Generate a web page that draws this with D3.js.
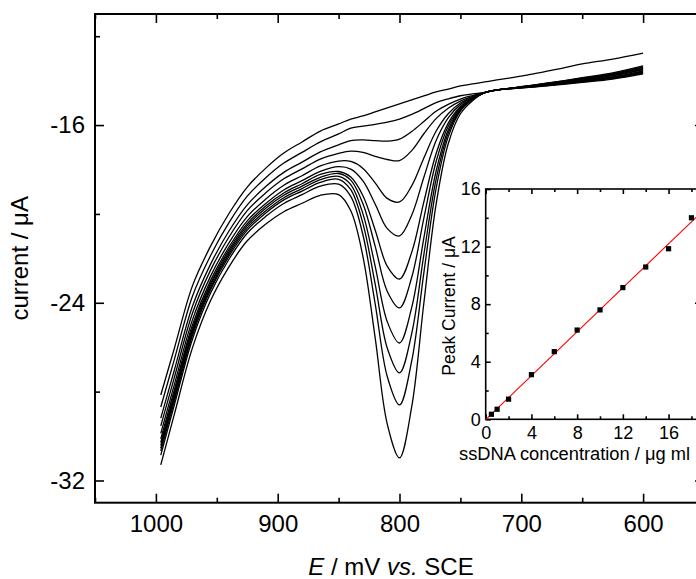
<!DOCTYPE html>
<html><head><meta charset="utf-8">
<script src="https://cdn.jsdelivr.net/npm/d3@7"></script>
<style>
body{margin:0;background:#fff;}
svg{display:block;}
text{font-family:"Liberation Sans",Arial,Helvetica,sans-serif;fill:#000;}
</style>
</head><body>
<svg id="chart" width="696" height="579"></svg>
<script>
// ---------- main chart data (E / mV, current / uA) ----------
const potential = [996, 985, 970, 955, 940, 925, 910, 895, 880, 865, 850, 840, 830, 820, 810, 800, 790, 780, 770, 760, 750, 740, 730, 720, 705, 690, 670, 650, 625, 600];
const cur0  = [-28.15,-26.08,-23.24,-21.44,-19.98,-18.79,-17.95,-17.26,-16.76,-16.27,-15.95,-15.73,-15.59,-15.41,-15.23,-15.05,-14.87,-14.69,-14.51,-14.38,-14.24,-14.15,-14.06,-13.97,-13.84,-13.70,-13.48,-13.25,-13.03,-12.76];
const cur05 = [-28.69,-26.58,-23.71,-21.86,-20.39,-19.20,-18.38,-17.71,-17.23,-16.76,-16.40,-16.14,-16.05,-15.97,-15.87,-15.73,-15.52,-15.26,-14.99,-14.82,-14.68,-14.60,-14.53,-14.42,-14.31,-14.20,-14.04,-13.87,-13.65,-13.34];
const cur1  = [-29.19,-27.06,-24.16,-22.25,-20.77,-19.59,-18.78,-18.13,-17.67,-17.21,-16.89,-16.70,-16.67,-16.70,-16.72,-16.63,-16.29,-15.84,-15.38,-15.07,-14.83,-14.67,-14.53,-14.42,-14.31,-14.20,-14.05,-13.89,-13.68,-13.38];
const cur2  = [-29.54,-27.39,-24.47,-22.52,-21.04,-19.85,-19.06,-18.42,-17.97,-17.53,-17.27,-17.17,-17.23,-17.41,-17.55,-17.60,-17.15,-16.39,-15.71,-15.24,-14.92,-14.71,-14.54,-14.42,-14.32,-14.21,-14.07,-13.91,-13.71,-13.41];
const cur4  = [-29.88,-27.71,-24.77,-22.79,-21.30,-20.12,-19.34,-18.71,-18.28,-17.84,-17.62,-17.64,-17.95,-18.60,-19.30,-19.46,-18.74,-17.48,-16.28,-15.49,-15.01,-14.75,-14.54,-14.42,-14.32,-14.22,-14.08,-13.93,-13.73,-13.45];
const cur6  = [-30.13,-27.95,-25.00,-22.98,-21.49,-20.31,-19.54,-18.92,-18.50,-18.08,-17.87,-17.98,-18.51,-19.55,-20.66,-20.99,-20.06,-18.35,-16.71,-15.68,-15.08,-14.77,-14.54,-14.42,-14.33,-14.23,-14.10,-13.95,-13.76,-13.48];
const cur8  = [-30.29,-28.10,-25.14,-23.11,-21.61,-20.44,-19.66,-19.06,-18.64,-18.22,-18.09,-18.34,-19.18,-20.72,-22.36,-22.93,-21.73,-19.46,-17.29,-15.91,-15.17,-14.80,-14.54,-14.42,-14.33,-14.24,-14.11,-13.97,-13.79,-13.52];
const cur10 = [-30.42,-28.22,-25.25,-23.20,-21.71,-20.53,-19.76,-19.16,-18.75,-18.35,-18.18,-18.48,-19.54,-21.45,-23.49,-24.23,-22.86,-20.19,-17.65,-16.05,-15.22,-14.81,-14.54,-14.42,-14.34,-14.25,-14.13,-13.99,-13.83,-13.56];
const cur12 = [-30.54,-28.34,-25.36,-23.30,-21.80,-20.63,-19.87,-19.27,-18.86,-18.46,-18.31,-18.68,-20.00,-22.35,-24.86,-25.81,-24.22,-21.08,-18.09,-16.22,-15.27,-14.83,-14.54,-14.42,-14.34,-14.26,-14.14,-14.01,-13.85,-13.59];
const cur14 = [-30.67,-28.46,-25.47,-23.40,-21.90,-20.73,-19.97,-19.37,-18.97,-18.58,-18.44,-18.91,-20.44,-23.15,-26.05,-27.16,-25.39,-21.83,-18.46,-16.36,-15.31,-14.83,-14.54,-14.42,-14.34,-14.27,-14.16,-14.03,-13.88,-13.63];
const cur16 = [-30.86,-28.63,-25.64,-23.55,-22.04,-20.87,-20.12,-19.53,-19.13,-18.75,-18.66,-19.21,-20.95,-24.04,-27.33,-28.60,-26.63,-22.65,-18.87,-16.52,-15.37,-14.85,-14.54,-14.42,-14.35,-14.28,-14.17,-14.05,-13.90,-13.66];
const cur18 = [-31.30,-29.05,-26.03,-23.89,-22.38,-21.21,-20.47,-19.90,-19.52,-19.16,-19.13,-19.86,-21.92,-25.57,-29.47,-30.98,-28.69,-24.01,-19.58,-16.84,-15.49,-14.90,-14.54,-14.42,-14.35,-14.29,-14.19,-14.08,-13.93,-13.70];
const curves = [cur0, cur05, cur1, cur2, cur4, cur6, cur8, cur10, cur12, cur14, cur16, cur18];

const xMajorTicks = [1000, 900, 800, 700, 600];
const xMinorTicks = [1050, 950, 850, 750, 650, 550];
const yMajorTicks = [-16, -24, -32];
const yMinorTicks = [-12, -20, -28];

// ---------- inset data ----------
const conc = [0.5, 1, 2, 4, 6, 8, 10, 12, 14, 16, 18];
const peakCurrent = [0.35, 0.7, 1.4, 3.1, 4.7, 6.2, 7.6, 9.15, 10.58, 11.85, 14.0];
const insetXMajor = [0, 4, 8, 12, 16];
const insetXMinor = [2, 6, 10, 14, 18];
const insetYMajor = [0, 4, 8, 12, 16];
const insetYMinor = [2, 6, 10, 14];

const svg = d3.select("#chart");

// ---------- main plot ----------
const M = {left: 95, right: 704, top: 14, bottom: 502.7};
const x = d3.scaleLinear().domain([1050, 550]).range([M.left, M.right]);
const y = d3.scaleLinear().domain([-33, -11]).range([M.bottom, M.top]);

const line = d3.line()
  .x((d, i) => x(potential[i]))
  .y(d => y(d))
  .curve(d3.curveCatmullRom.alpha(0.5));

svg.append("g").selectAll("path").data(curves).join("path")
  .attr("d", d => line(d))
  .attr("fill", "none").attr("stroke", "#000").attr("stroke-width", 1.3);

function styleAxis(g, fs) {
  g.select(".domain").remove();
  g.selectAll(".tick line").attr("stroke", "#000").attr("stroke-width", 1.6);
  g.selectAll(".tick text").attr("font-size", fs).attr("fill", "#000")
   .attr("font-family", '"Liberation Sans",Arial,sans-serif');
}
const fmt = d => String(d);

svg.append("g").attr("transform", `translate(0,${M.bottom})`)
  .call(d3.axisBottom(x).tickValues(xMajorTicks).tickSize(-9).tickPadding(12).tickFormat(fmt))
  .call(g => styleAxis(g, 24));
svg.append("g").attr("transform", `translate(0,${M.bottom})`)
  .call(d3.axisBottom(x).tickValues(xMinorTicks).tickSize(-5).tickFormat(""))
  .call(g => styleAxis(g, 24));
svg.append("g").attr("transform", `translate(0,${M.top})`)
  .call(d3.axisTop(x).tickValues(xMajorTicks).tickSize(-9).tickFormat(""))
  .call(g => styleAxis(g, 24));
svg.append("g").attr("transform", `translate(0,${M.top})`)
  .call(d3.axisTop(x).tickValues(xMinorTicks).tickSize(-5).tickFormat(""))
  .call(g => styleAxis(g, 24));

svg.append("g").attr("transform", `translate(${M.left},0)`)
  .call(d3.axisLeft(y).tickValues(yMajorTicks).tickSize(-9).tickPadding(10).tickFormat(fmt))
  .call(g => styleAxis(g, 24));
svg.append("g").attr("transform", `translate(${M.left},0)`)
  .call(d3.axisLeft(y).tickValues(yMinorTicks).tickSize(-5).tickFormat(""))
  .call(g => styleAxis(g, 24));
svg.append("g").attr("transform", `translate(${M.right},0)`)
  .call(d3.axisRight(y).tickValues(yMajorTicks).tickSize(-9).tickFormat(""))
  .call(g => styleAxis(g, 24));

svg.append("rect")
  .attr("x", M.left).attr("y", M.top)
  .attr("width", M.right - M.left).attr("height", M.bottom - M.top)
  .attr("fill", "none").attr("stroke", "#000").attr("stroke-width", 2);

// axis titles
svg.append("text")
  .attr("transform", `translate(28,${(M.top + M.bottom) / 2}) rotate(-90)`)
  .attr("text-anchor", "middle").attr("font-size", 24)
  .text("current / μA");

const xt = svg.append("text").attr("x", 391).attr("y", 575)
  .attr("text-anchor", "middle").attr("font-size", 24);
xt.append("tspan").attr("font-style", "italic").text("E");
xt.append("tspan").text(" / mV ");
xt.append("tspan").attr("font-style", "italic").text("vs.");
xt.append("tspan").text(" SCE");

// ---------- inset ----------
const N = {left: 485.7, right: 714.3, top: 189, bottom: 419.3};
const ix = d3.scaleLinear().domain([0, 20]).range([N.left, N.right]);
const iy = d3.scaleLinear().domain([0, 16]).range([N.bottom, N.top]);

svg.append("g").attr("transform", `translate(0,${N.bottom})`)
  .call(d3.axisBottom(ix).tickValues(insetXMajor).tickSize(-5).tickPadding(7).tickFormat(fmt))
  .call(g => styleAxis(g, 18));
svg.append("g").attr("transform", `translate(0,${N.bottom})`)
  .call(d3.axisBottom(ix).tickValues(insetXMinor).tickSize(-3).tickFormat(""))
  .call(g => styleAxis(g, 18));
svg.append("g").attr("transform", `translate(0,${N.top})`)
  .call(d3.axisTop(ix).tickValues(insetXMajor).tickSize(-5).tickFormat(""))
  .call(g => styleAxis(g, 18));
svg.append("g").attr("transform", `translate(0,${N.top})`)
  .call(d3.axisTop(ix).tickValues(insetXMinor).tickSize(-3).tickFormat(""))
  .call(g => styleAxis(g, 18));
svg.append("g").attr("transform", `translate(${N.left},0)`)
  .call(d3.axisLeft(iy).tickValues(insetYMajor).tickSize(-5).tickPadding(5).tickFormat(fmt))
  .call(g => styleAxis(g, 18));
svg.append("g").attr("transform", `translate(${N.left},0)`)
  .call(d3.axisLeft(iy).tickValues(insetYMinor).tickSize(-3).tickFormat(""))
  .call(g => styleAxis(g, 18));

svg.append("rect")
  .attr("x", N.left).attr("y", N.top)
  .attr("width", N.right - N.left).attr("height", N.bottom - N.top)
  .attr("fill", "none").attr("stroke", "#000").attr("stroke-width", 1.6);

// least-squares fit of the inset points
const mx = d3.mean(conc), my = d3.mean(peakCurrent);
const slope = d3.sum(conc, (c, i) => (c - mx) * (peakCurrent[i] - my)) / d3.sum(conc, c => (c - mx) ** 2);
const intercept = my - slope * mx;
svg.append("line")
  .attr("x1", ix(0)).attr("y1", iy(intercept))
  .attr("x2", ix(20)).attr("y2", iy(intercept + slope * 20))
  .attr("stroke", "#ff0000").attr("stroke-width", 1.1);

svg.append("g").selectAll("rect").data(conc).join("rect")
  .attr("x", (d) => ix(d) - 2.6)
  .attr("y", (d, i) => iy(peakCurrent[i]) - 2.6)
  .attr("width", 5.2).attr("height", 5.2).attr("fill", "#000");

svg.append("text")
  .attr("transform", `translate(455,306) rotate(-90)`)
  .attr("text-anchor", "middle").attr("font-size", 17.5)
  .text("Peak Current / μA");

svg.append("text").attr("x", 459).attr("y", 460).attr("font-size", 18.3)
  .text("ssDNA concentration / μg ml");
</script>
</body></html>
